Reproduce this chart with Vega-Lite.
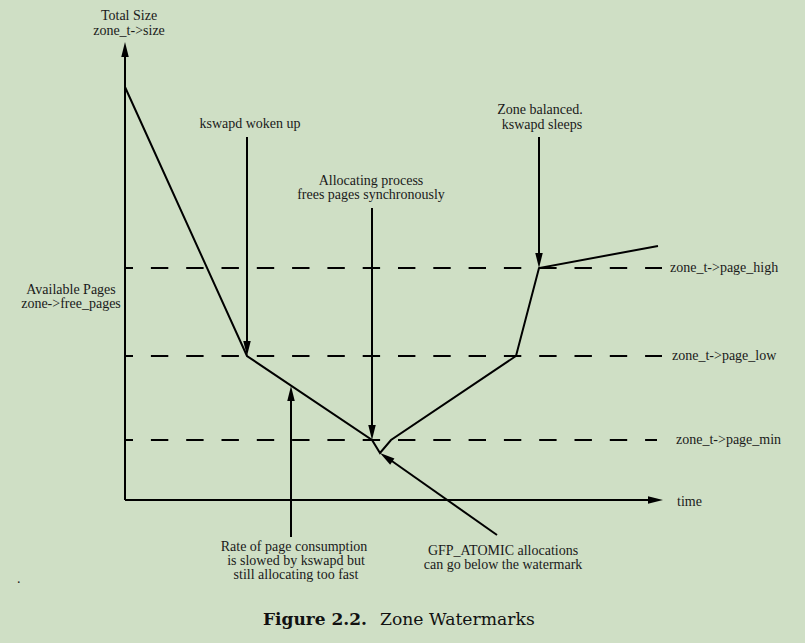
{
  "$schema": "https://vega.github.io/schema/vega-lite/v6.json",
  "width": 805,
  "height": 643,
  "autosize": {"type": "fit", "contains": "padding"},
  "padding": 0,
  "background": "#cfdfc5",
  "config": {"view": {"stroke": null}},
  "datasets": {
    "path": [
      {"u": 0, "v": 413, "o": 1},
      {"u": 122, "v": 144, "o": 2},
      {"u": 247, "v": 60, "o": 3},
      {"u": 255, "v": 47, "o": 4},
      {"u": 266, "v": 60, "o": 5},
      {"u": 391, "v": 144, "o": 6},
      {"u": 414, "v": 232, "o": 7},
      {"u": 533, "v": 254, "o": 8}
    ],
    "rules": [
      {"u": 0, "v": 0, "u2": 0, "v2": 447, "part": "pages axis"},
      {"u": 0, "v": 0, "u2": 528, "v2": 0, "part": "time axis"},
      {"u": 122, "v": 363, "u2": 122, "v2": 152, "part": "kswapd woken up"},
      {"u": 247, "v": 292, "u2": 247, "v2": 68, "part": "frees pages synchronously"},
      {"u": 414, "v": 363, "u2": 414, "v2": 240, "part": "kswapd sleeps"},
      {"u": 166, "v": -37, "u2": 166, "v2": 104, "part": "rate of consumption"},
      {"u": 372, "v": -35, "u2": 264, "v2": 41, "part": "GFP_ATOMIC"}
    ],
    "dashes": [
      {"u": 0, "v": 232, "u2": 537, "v2": 232, "level": "page_high"},
      {"u": 0, "v": 144, "u2": 537, "v2": 144, "level": "page_low"},
      {"u": 0, "v": 60, "u2": 532, "v2": 60, "level": "page_min"}
    ],
    "heads": [
      {"u": 0, "v": 458, "angle": 0},
      {"u": 538, "v": 0, "angle": 90},
      {"u": 122, "v": 144, "angle": 180},
      {"u": 247, "v": 60, "angle": 180},
      {"u": 414, "v": 232, "angle": 180},
      {"u": 166, "v": 114, "angle": 0},
      {"u": 255, "v": 47, "angle": 305}
    ],
    "centerLabels": [
      {"u": 4, "v": 484, "text": "Total Size"},
      {"u": 4, "v": 469, "text": "zone_t->size"},
      {"u": -54, "v": 210, "text": "Available Pages"},
      {"u": -54, "v": 196, "text": "zone->free_pages"},
      {"u": 125, "v": 376, "text": "kswapd woken up"},
      {"u": 246, "v": 319, "text": "Allocating process"},
      {"u": 246, "v": 305, "text": "frees pages synchronously"},
      {"u": 415, "v": 390, "text": "Zone balanced."},
      {"u": 417, "v": 375, "text": "kswapd sleeps"},
      {"u": 169, "v": -47, "text": "Rate of page consumption"},
      {"u": 171, "v": -61, "text": "is slowed by kswapd but"},
      {"u": 171, "v": -75, "text": "still allocating too fast"},
      {"u": 378, "v": -51, "text": "GFP_ATOMIC allocations"},
      {"u": 378, "v": -65, "text": "can go below the watermark"}
    ],
    "leftLabels": [
      {"u": 545, "v": 232, "text": "zone_t->page_high"},
      {"u": 547, "v": 144, "text": "zone_t->page_low"},
      {"u": 551, "v": 60, "text": "zone_t->page_min"},
      {"u": 552, "v": -2, "text": "time"},
      {"u": -108, "v": -79, "text": "."}
    ],
    "captionBold": [{"u": 138, "v": -120, "text": "Figure 2.2."}],
    "caption": [{"u": 255, "v": -120, "text": "Zone Watermarks"}]
  },
  "encoding": {
    "x": {"field": "u", "type": "quantitative", "scale": {"domain": [-125, 680], "nice": false, "zero": false}, "axis": null},
    "y": {"field": "v", "type": "quantitative", "scale": {"domain": [-143, 500], "nice": false, "zero": false}, "axis": null}
  },
  "layer": [
    {
      "data": {"name": "dashes"},
      "mark": {"type": "rule", "color": "#000000", "strokeWidth": 2, "strokeDash": [17.4, 17.9], "strokeDashOffset": 9.4},
      "encoding": {"x2": {"field": "u2"}, "y2": {"field": "v2"}}
    },
    {
      "data": {"name": "rules"},
      "mark": {"type": "rule", "color": "#000000", "strokeWidth": 2},
      "encoding": {"x2": {"field": "u2"}, "y2": {"field": "v2"}}
    },
    {
      "data": {"name": "path"},
      "mark": {"type": "line", "color": "#000000", "strokeWidth": 2},
      "encoding": {"order": {"field": "o", "type": "quantitative"}}
    },
    {
      "data": {"name": "heads"},
      "mark": {"type": "point", "shape": "M0,0L0.5,2L-0.5,2Z", "filled": true, "color": "#000000", "opacity": 1, "size": 225, "strokeWidth": 0},
      "encoding": {"angle": {"field": "angle", "type": "quantitative", "scale": null}}
    },
    {
      "data": {"name": "centerLabels"},
      "mark": {"type": "text", "font": "Liberation Serif", "fontSize": 14, "align": "center", "baseline": "middle", "color": "#1a1a1a"},
      "encoding": {"text": {"field": "text"}}
    },
    {
      "data": {"name": "leftLabels"},
      "mark": {"type": "text", "font": "Liberation Serif", "fontSize": 14, "align": "left", "baseline": "middle", "color": "#1a1a1a"},
      "encoding": {"text": {"field": "text"}}
    },
    {
      "data": {"name": "captionBold"},
      "mark": {"type": "text", "font": "DejaVu Serif", "fontSize": 17, "fontWeight": "bold", "align": "left", "baseline": "middle", "color": "#111111"},
      "encoding": {"text": {"field": "text"}}
    },
    {
      "data": {"name": "caption"},
      "mark": {"type": "text", "font": "DejaVu Serif", "fontSize": 17.2, "align": "left", "baseline": "middle", "color": "#111111"},
      "encoding": {"text": {"field": "text"}}
    }
  ]
}
